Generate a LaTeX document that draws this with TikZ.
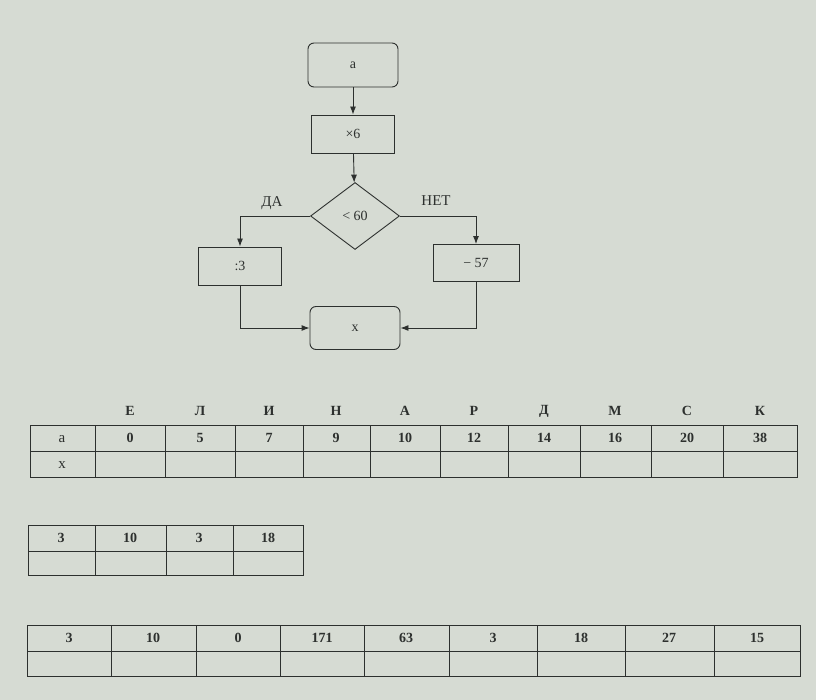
\documentclass[tikz,border=0pt]{standalone}
\usepackage{fontspec}
\setmainfont{Liberation Serif}
\usetikzlibrary{shapes.geometric,arrows.meta}
\definecolor{paper}{RGB}{214,219,211}
\definecolor{ink}{RGB}{45,48,46}
\begin{document}
\begin{tikzpicture}[x=1pt,y=-1pt,
  box/.style={draw=ink,line width=0.9pt,inner sep=0pt,font=\fontsize{14}{16}\selectfont,text=ink},
  rbox/.style={box,rounded corners=6pt},
  dec/.style={box,diamond,aspect=1.33,minimum width=89pt,minimum height=67pt},
  flow/.style={draw=ink,line width=0.9pt,-{Latex[length=8pt,width=6pt]}},
  lbl/.style={font=\fontsize{15}{17}\selectfont,text=ink},
  grid/.style={draw=ink,line width=0.9pt},
  cell/.style={font=\bfseries\fontsize{14}{16}\selectfont,text=ink,inner sep=0pt}]
\fill[paper] (0,0) rectangle (816,700);
\useasboundingbox (0,0) rectangle (816,700);
% flowchart
\node[rbox,minimum width=90pt,minimum height=44pt] (a) at (353,65) {a};
\node[box,minimum width=83pt,minimum height=38pt] (m6) at (353,134) {×6};
\node[dec] (d) at (355,216) {< 60};
\node[box,minimum width=83pt,minimum height=38pt] (d3) at (240,266) {:3};
\node[box,minimum width=86pt,minimum height=37pt] (m57) at (476,263) {− 57};
\node[rbox,minimum width=90pt,minimum height=43pt] (x) at (355,328) {x};
\draw[flow] (a) -- (m6);
\draw[flow] (m6) -- (d);
\draw[flow] (d.west) -| (d3.north);
\draw[flow] (d.east) -| (m57.north);
\draw[flow] (d3.south) |- (x.west);
\draw[flow] (m57.south) |- (x.east);
\node[lbl] (yes) at (272,203) {ДА};
\node[lbl] (no) at (436,201) {НЕТ};
% table 1
\draw[grid] (30,425) rectangle (797,477);
\draw[grid] (30,451) -- (797,451);
\foreach \xx in {95,165,235,303,370,440,508,580,651,723}
  \draw[grid] (\xx,425) -- (\xx,477);
\node[lbl] (ra) at (62,439) {a};
\node[lbl] (rx) at (62,465) {x};
\foreach \l/\v/\c [count=\i] in {Е/0/130,Л/5/200,И/7/269,Н/9/336,А/10/405,Р/12/474,Д/14/544,М/16/615,С/20/687,К/38/760}{
  \node[cell] (h\i) at (\c,411) {\l};
  \node[cell] (v\i) at (\c,438) {\v};
}
% table 2
\draw[grid] (28,525) rectangle (303,575);
\draw[grid] (28,551) -- (303,551);
\foreach \xx in {95,166,233}
  \draw[grid] (\xx,525) -- (\xx,575);
\foreach \v/\c [count=\i] in {3/61,10/130,3/199,18/268}
  \node[cell] (s\i) at (\c,538) {\v};
% table 3
\draw[grid] (27,625) rectangle (800,676);
\draw[grid] (27,651) -- (800,651);
\foreach \xx in {111,196,280,364,449,537,625,714}
  \draw[grid] (\xx,625) -- (\xx,676);
\foreach \v/\c [count=\i] in {3/69,10/153,0/238,171/322,63/406,3/493,18/581,27/669,15/757}
  \node[cell] (w\i) at (\c,638) {\v};
\end{tikzpicture}
\end{document}
